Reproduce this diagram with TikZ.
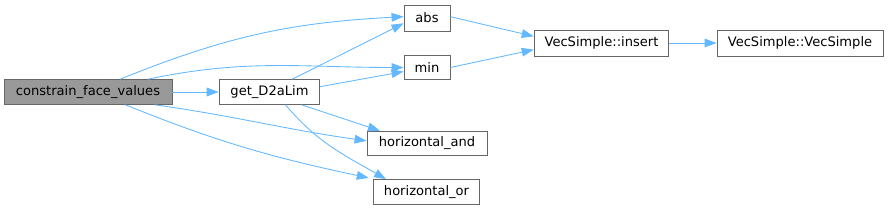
\documentclass[tikz,border=0pt]{standalone}
\usepackage{fontspec}
\setmainfont{DejaVu Sans}
\usetikzlibrary{arrows.meta, calc}
\definecolor{dxedge}{HTML}{63B8FF}
\definecolor{dxborder}{HTML}{666666}
\definecolor{dxroot}{HTML}{999999}

\begin{document}
\begin{tikzpicture}[x=0.75pt, y=-0.75pt,
    fn/.style={draw=dxborder, fill=white, font=\fontsize{9.8}{11}\selectfont,
               minimum height=18.5pt, inner sep=1pt, line width=0.65pt},
    call/.style={draw=dxedge, line width=0.65pt, -{Triangle[length=9pt, width=6.5pt]}}]
    \useasboundingbox (0,0) rectangle (889,211);
    % functions
    \node[fn, fill=dxroot, minimum width=126pt] (cfv) at (88,92) {constrain\_face\_values};
    \node[fn, minimum width=75.5pt] (lim) at (269.5,92) {get\_D2aLim};
    \node[fn, minimum width=34.5pt, minimum height=19.5pt] (abs) at (427,18) {abs};
    \node[fn, minimum width=34.5pt] (min) at (427,67.5) {min};
    \node[fn, minimum width=90pt] (hand) at (427,143.5) {horizontal\_and};
    \node[fn, minimum width=80pt] (hor) at (426.5,192) {horizontal\_or};
    \node[fn, minimum width=101pt, minimum height=19.5pt] (ins) at (601.5,43) {VecSimple::insert};
    \node[fn, minimum width=124.5pt, minimum height=19.5pt] (vsc) at (800,43) {VecSimple::VecSimple};
    % calls
    \draw[call] ([xshift=24pt]cfv.north) to[out=22, in=183] ([yshift=1pt]abs.west);
    \draw[call] ([xshift=45pt]cfv.north) to[out=12, in=180] (min.west);
    \draw[call] (cfv) -- (lim);
    \draw[call] ([xshift=50pt]cfv.south) to[out=-8, in=172] ([yshift=2pt]hand.west);
    \draw[call] ([xshift=28pt]cfv.south) to[out=-22, in=168] ([xshift=-3pt,yshift=1pt]hor.north west);
    \draw[call] ([xshift=17pt]lim.north) -- ([yshift=-4pt]abs.west);
    \draw[call] ([yshift=4pt]lim.east) -- ([yshift=-3pt]min.west);
    \draw[call] ([xshift=24pt]lim.south) -- ([xshift=10pt]hand.north west);
    \draw[call] ([xshift=12pt]lim.south) to[out=-50, in=150] ([xshift=10pt]hor.north west);
    \draw[call] ([yshift=1pt]abs.east) -- ([yshift=5pt]ins.west);
    \draw[call] (min.east) -- ([yshift=-5pt]ins.west);
    \draw[call] (ins) -- (vsc);
\end{tikzpicture}
\end{document}
